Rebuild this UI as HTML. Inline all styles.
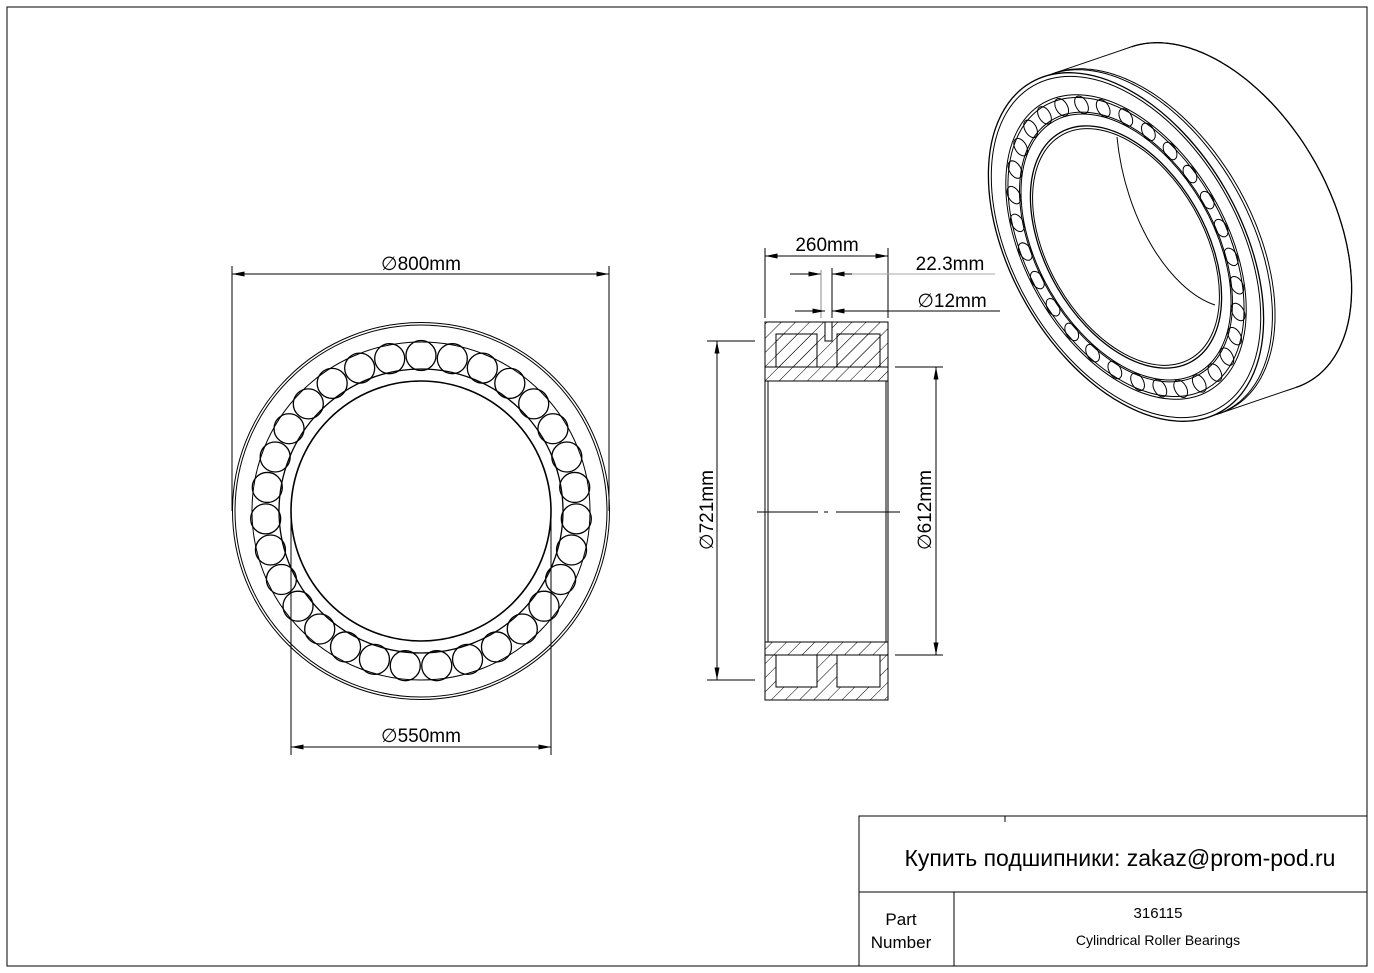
<!DOCTYPE html>
<html><head><meta charset="utf-8"><style>
html,body{margin:0;padding:0;background:#fff;}
svg{display:block;font-family:"Liberation Sans",sans-serif;}
</style></head><body>
<svg width="1374" height="973" viewBox="0 0 1374 973" xmlns="http://www.w3.org/2000/svg">
<defs>
<pattern id="h" patternUnits="userSpaceOnUse" width="10" height="10" patternTransform="rotate(45)">
<line x1="0" y1="0" x2="0" y2="10" stroke="#000" stroke-width="1"/>
</pattern>
<marker id="a" viewBox="0 0 10 4" refX="10" refY="2" markerWidth="14" markerHeight="5" markerUnits="userSpaceOnUse" orient="auto-start-reverse">
<path d="M0,0 L10,2 L0,4 z" fill="#000"/></marker>
</defs>
<rect x="7" y="7" width="1360" height="959" fill="none" stroke="#000" stroke-width="1"/>

<g fill="none" stroke="#000">
<circle cx="421" cy="511" r="188.5" stroke-width="1"/>
<circle cx="421" cy="511" r="186" stroke-width="1"/>
<circle cx="421" cy="511" r="169" stroke-width="1"/>
<circle cx="421" cy="511" r="142" stroke-width="1.3"/>
<circle cx="421" cy="511" r="130" stroke-width="1.6"/>
<g id="rollers" stroke-width="1.3"></g>
</g>
<g stroke="#000" stroke-width="1" fill="none">
<line x1="232" y1="266" x2="232" y2="511"/>
<line x1="609" y1="266" x2="609" y2="511"/>
<line x1="232" y1="274" x2="609" y2="274" marker-start="url(#a)" marker-end="url(#a)"/>
<line x1="291" y1="511" x2="291" y2="755"/>
<line x1="551" y1="511" x2="551" y2="755"/>
<line x1="291" y1="747" x2="551" y2="747" marker-start="url(#a)" marker-end="url(#a)"/>
</g>
<text x="421" y="270" font-size="19" text-anchor="middle">∅800mm</text>
<text x="421" y="742" font-size="19" text-anchor="middle">∅550mm</text>

<g stroke="#000" stroke-width="1">
<rect x="765" y="322" width="123" height="45" fill="url(#h)"/>
<rect x="776" y="334" width="41" height="33" fill="url(#h)"/>
<rect x="837" y="334" width="43" height="33" fill="url(#h)"/>
<rect x="825" y="322" width="7" height="19" fill="#fff"/>
<rect x="765" y="367" width="123" height="14" fill="url(#h)"/>
<rect x="765" y="381" width="123" height="261" fill="#fff"/>
<rect x="768" y="381" width="118" height="261" fill="none"/>
<rect x="765" y="642" width="123" height="13" fill="url(#h)"/>
<rect x="765" y="655" width="123" height="45" fill="url(#h)"/>
<rect x="776" y="655" width="41" height="32" fill="#fff"/>
<rect x="837" y="655" width="43" height="32" fill="#fff"/>
<line x1="757" y1="512" x2="818" y2="512"/>
<line x1="824" y1="512" x2="828" y2="512"/>
<line x1="836" y1="512" x2="900" y2="512"/>
</g>
<g stroke="#000" stroke-width="1" fill="none">
<line x1="765" y1="248" x2="765" y2="318"/>
<line x1="888" y1="248" x2="888" y2="318"/>
<line x1="765" y1="256" x2="888" y2="256" marker-start="url(#a)" marker-end="url(#a)"/>
<line x1="790" y1="274" x2="821" y2="274" marker-end="url(#a)"/>
<line x1="852" y1="274" x2="832" y2="274" marker-end="url(#a)"/>
<line x1="852" y1="274" x2="995" y2="274" stroke="#aaa"/>
<line x1="821" y1="270" x2="821" y2="318" stroke="#888"/>
<line x1="832" y1="268" x2="832" y2="318"/>
<line x1="795" y1="311" x2="825" y2="311" marker-end="url(#a)"/>
<line x1="850" y1="311" x2="832" y2="311" marker-end="url(#a)"/>
<line x1="832" y1="311" x2="1000" y2="311"/>
<line x1="707" y1="341" x2="755" y2="341"/>
<line x1="707" y1="680" x2="755" y2="680"/>
<line x1="717" y1="341" x2="717" y2="680" marker-start="url(#a)" marker-end="url(#a)"/>
<line x1="895" y1="367" x2="943" y2="367"/>
<line x1="895" y1="655" x2="943" y2="655"/>
<line x1="936" y1="367" x2="936" y2="655" marker-start="url(#a)" marker-end="url(#a)"/>
</g>
<text x="827" y="251" font-size="19" text-anchor="middle">260mm</text>
<text x="950" y="270" font-size="19" text-anchor="middle">22.3mm</text>
<text x="952" y="307" font-size="19" text-anchor="middle">∅12mm</text>
<text transform="translate(713,510) rotate(-90)" font-size="19" text-anchor="middle">∅721mm</text>
<text transform="translate(931,510) rotate(-90)" font-size="19" text-anchor="middle">∅612mm</text>

<g id="iso"></g>

<g stroke="#000" stroke-width="1" fill="none">
<rect x="859" y="816" width="508" height="150"/>
<line x1="859" y1="892" x2="1367" y2="892"/>
<line x1="954" y1="892" x2="954" y2="966"/>
<line x1="1005" y1="816" x2="1005" y2="822"/>
</g>
<text x="1120" y="866" font-size="23" text-anchor="middle">Купить подшипники: zakaz@prom-pod.ru</text>
<text x="901" y="925" font-size="17" text-anchor="middle">Part</text>
<text x="901" y="948" font-size="17" text-anchor="middle">Number</text>
<text x="1158" y="918" font-size="15" text-anchor="middle">316115</text>
<text x="1158" y="945" font-size="14" text-anchor="middle">Cylindrical Roller Bearings</text>
</svg>
<script>
var NS="http://www.w3.org/2000/svg";
function el(p,t,a){var e=document.createElementNS(NS,t);for(var k in a)e.setAttribute(k,a[k]);p.appendChild(e);return e;}
var g=document.getElementById("rollers");
for(var i=0;i<31;i++){var t=-Math.PI/2+i*2*Math.PI/31;
el(g,"circle",{cx:421+155.5*Math.cos(t),cy:511+155.5*Math.sin(t),r:15});}
var iso=document.getElementById("iso");
var CX=1126,CY=247,DX=88,DY=-30,ang=-30*Math.PI/180,sx=0.605,R=190;
function P(th,r){var x=r*sx*Math.cos(th),y=r*Math.sin(th);
return [CX+x*Math.cos(ang)-y*Math.sin(ang),CY+x*Math.sin(ang)+y*Math.cos(ang)];}
function tr(f){return "translate("+(CX+DX*f)+","+(CY+DY*f)+") rotate(-30) scale("+sx+",1)";}
var bg=el(iso,"g",{transform:tr(1)});
el(bg,"circle",{r:R,fill:"#fff",stroke:"#000","stroke-width":1,"vector-effect":"non-scaling-stroke"});
var bg2=el(iso,"g",{transform:tr(0.93)});
el(bg2,"circle",{r:R,fill:"none",stroke:"#000","stroke-width":1,"vector-effect":"non-scaling-stroke"});
var N=60;
for(var k=1;k<N;k++){var f=k/N;var gg=el(iso,"g",{transform:tr(f)});
el(gg,"circle",{r:R,fill:"#fff",stroke:"none"});}
var best=[null,null],bv=[1e9,-1e9];
for(var i=0;i<720;i++){var th=i*Math.PI/360;var p=P(th,R);var c=(p[0]-CX)*DY-(p[1]-CY)*DX;
if(c<bv[0]){bv[0]=c;best[0]=th;} if(c>bv[1]){bv[1]=c;best[1]=th;}}
best.forEach(function(th){var p=P(th,R);el(iso,"line",{x1:p[0],y1:p[1],x2:p[0]+DX,y2:p[1]+DY,stroke:"#000","stroke-width":1});});
(function(){var a0=best[0],a1=best[1];var n=200;
function side(s,e){var pts=[];for(var i=0;i<=n;i++){var th=s+(e-s)*i/n;var p=P(th,R);pts.push([p[0]+DX,p[1]+DY]);}return pts;}
var s1=side(a0,a1),s2=side(a1,a0+2*Math.PI*(a1>a0?1:-1));
var score=function(m){return (m[0]-CX)*DX+(m[1]-CY)*DY;};
var pts=score(s1[100])>score(s2[100])?s1:s2;
el(iso,"path",{d:"M"+pts.map(function(p){return p[0].toFixed(1)+","+p[1].toFixed(1)}).join(" L"),fill:"none",stroke:"#000","stroke-width":1.3});
var sgn=(pts===s1)?[a0,a1]:[a1,a0+2*Math.PI*(a1>a0?1:-1)];
[0.1,0.13].forEach(function(f){var q=[];for(var i=0;i<=n;i++){var th=sgn[0]+(sgn[1]-sgn[0])*i/n;var p=P(th,R);q.push([p[0]+DX*f,p[1]+DY*f]);}
el(iso,"path",{d:"M"+q.map(function(p){return p[0].toFixed(1)+","+p[1].toFixed(1)}).join(" L"),fill:"none",stroke:"#000","stroke-width":1});});
})();
var fg=el(iso,"g",{transform:tr(0),fill:"none",stroke:"#000"});
el(fg,"circle",{r:R,fill:"#fff","stroke-width":1.3,"vector-effect":"non-scaling-stroke"});
[186,166,163,147,145].forEach(function(r){el(fg,"circle",{r:r,"stroke-width":1,"vector-effect":"non-scaling-stroke"});});
el(fg,"circle",{r:132,fill:"#fff","stroke-width":1.3,"vector-effect":"non-scaling-stroke"});
el(fg,"circle",{r:129,"stroke-width":1,"vector-effect":"non-scaling-stroke"});
for(var i=0;i<31;i++){var t=i*2*Math.PI/31;
el(fg,"circle",{cx:155*Math.cos(t),cy:155*Math.sin(t),r:9.5,"stroke-width":1,"vector-effect":"non-scaling-stroke"});}
el(iso,"path",{d:"M1117,137 C1125,220 1170,290 1215,305",fill:"none",stroke:"#000","stroke-width":1});
</script>
</body></html>
